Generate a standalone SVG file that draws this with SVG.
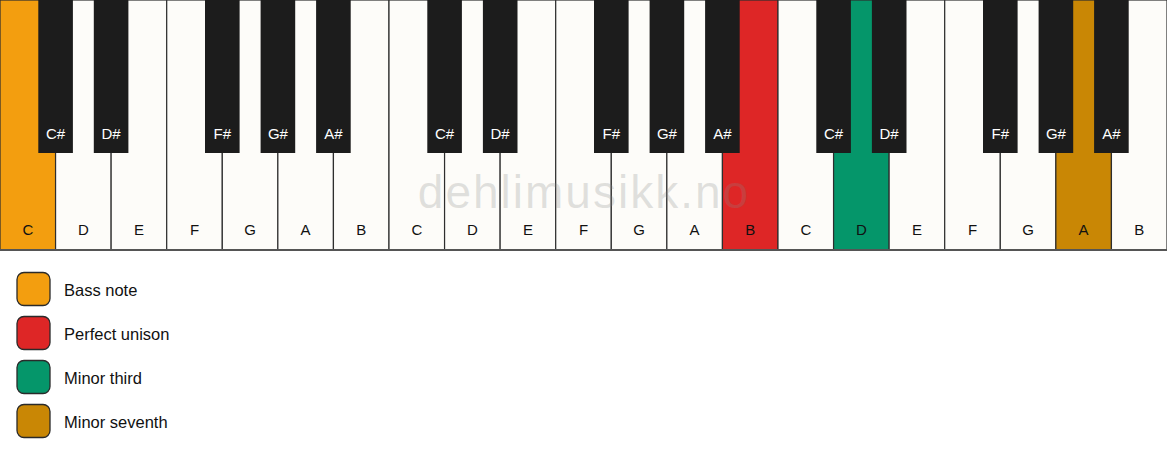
<svg xmlns="http://www.w3.org/2000/svg" width="1167" height="461" viewBox="0 0 1167 461">
<style>
.w{fill:#fdfcf9;stroke:#2e2e2e;stroke-width:1.2}
.b{fill:#1c1c1c}
.wl{font-family:"Liberation Sans",Arial,sans-serif;font-size:15px;fill:#111;text-anchor:middle}
.bl{font-family:"Liberation Sans",Arial,sans-serif;font-size:15px;fill:#fff;text-anchor:middle}
.lg{font-family:"Liberation Sans",Arial,sans-serif;font-size:16.5px;fill:#111}
.sw{stroke:#2a2a2a;stroke-width:1.3}
</style>
<rect width="1167" height="461" fill="#ffffff"/>
<g id="white-keys">
<rect id="k0" class="w" x="0" y="0" width="55.57" height="250" style="fill:#f39e0f"/>
<rect class="w" x="55.57" y="0" width="55.57" height="250"/>
<rect class="w" x="111.14" y="0" width="55.57" height="250"/>
<rect class="w" x="166.71" y="0" width="55.57" height="250"/>
<rect class="w" x="222.29" y="0" width="55.57" height="250"/>
<rect class="w" x="277.86" y="0" width="55.57" height="250"/>
<rect class="w" x="333.43" y="0" width="55.57" height="250"/>
<rect class="w" x="389" y="0" width="55.57" height="250"/>
<rect class="w" x="444.57" y="0" width="55.57" height="250"/>
<rect class="w" x="500.14" y="0" width="55.57" height="250"/>
<rect class="w" x="555.71" y="0" width="55.57" height="250"/>
<rect class="w" x="611.29" y="0" width="55.57" height="250"/>
<rect class="w" x="666.86" y="0" width="55.57" height="250"/>
<rect class="w" x="722.43" y="0" width="55.57" height="250" style="fill:#de2626"/>
<rect class="w" x="778" y="0" width="55.57" height="250"/>
<rect class="w" x="833.57" y="0" width="55.57" height="250" style="fill:#05966a"/>
<rect class="w" x="889.14" y="0" width="55.57" height="250"/>
<rect class="w" x="944.71" y="0" width="55.57" height="250"/>
<rect class="w" x="1000.29" y="0" width="55.57" height="250"/>
<rect class="w" x="1055.86" y="0" width="55.57" height="250" style="fill:#c98705"/>
<rect class="w" x="1111.43" y="0" width="55.57" height="250"/>
<line x1="0" y1="250" x2="1167" y2="250" stroke="#555" stroke-width="2"/>
</g>
<g id="watermark">
<text x="584" y="208" font-family="'Liberation Sans',Arial,sans-serif" font-size="46" letter-spacing="2" text-anchor="middle" fill="#888" fill-opacity="0.25">dehlimusikk.no</text>
</g>
<g id="white-labels">
<text class="wl" x="27.8" y="235">C</text>
<text class="wl" x="83.4" y="235">D</text>
<text class="wl" x="138.9" y="235">E</text>
<text class="wl" x="194.5" y="235">F</text>
<text class="wl" x="250.1" y="235">G</text>
<text class="wl" x="305.6" y="235">A</text>
<text class="wl" x="361.2" y="235">B</text>
<text class="wl" x="416.8" y="235">C</text>
<text class="wl" x="472.4" y="235">D</text>
<text class="wl" x="527.9" y="235">E</text>
<text class="wl" x="583.5" y="235">F</text>
<text class="wl" x="639.1" y="235">G</text>
<text class="wl" x="694.6" y="235">A</text>
<text class="wl" x="750.2" y="235">B</text>
<text class="wl" x="805.8" y="235">C</text>
<text class="wl" x="861.4" y="235">D</text>
<text class="wl" x="916.9" y="235">E</text>
<text class="wl" x="972.5" y="235">F</text>
<text class="wl" x="1028.1" y="235">G</text>
<text class="wl" x="1083.6" y="235">A</text>
<text class="wl" x="1139.2" y="235">B</text>
</g>
<g id="black-keys">
<rect class="b" x="38.3" y="0" width="34.6" height="153"/>
<rect class="b" x="93.8" y="0" width="34.6" height="153"/>
<rect class="b" x="205" y="0" width="34.6" height="153"/>
<rect class="b" x="260.6" y="0" width="34.6" height="153"/>
<rect class="b" x="316.1" y="0" width="34.6" height="153"/>
<rect class="b" x="427.3" y="0" width="34.6" height="153"/>
<rect class="b" x="482.9" y="0" width="34.6" height="153"/>
<rect class="b" x="594" y="0" width="34.6" height="153"/>
<rect class="b" x="649.6" y="0" width="34.6" height="153"/>
<rect class="b" x="705.1" y="0" width="34.6" height="153"/>
<rect class="b" x="816.3" y="0" width="34.6" height="153"/>
<rect class="b" x="871.9" y="0" width="34.6" height="153"/>
<rect class="b" x="983" y="0" width="34.6" height="153"/>
<rect class="b" x="1038.6" y="0" width="34.6" height="153"/>
<rect class="b" x="1094.1" y="0" width="34.6" height="153"/>
</g>
<g id="black-labels">
<text class="bl" x="55.6" y="139">C#</text>
<text class="bl" x="111.1" y="139">D#</text>
<text class="bl" x="222.3" y="139">F#</text>
<text class="bl" x="277.9" y="139">G#</text>
<text class="bl" x="333.4" y="139">A#</text>
<text class="bl" x="444.6" y="139">C#</text>
<text class="bl" x="500.1" y="139">D#</text>
<text class="bl" x="611.3" y="139">F#</text>
<text class="bl" x="666.9" y="139">G#</text>
<text class="bl" x="722.4" y="139">A#</text>
<text class="bl" x="833.6" y="139">C#</text>
<text class="bl" x="889.1" y="139">D#</text>
<text class="bl" x="1000.3" y="139">F#</text>
<text class="bl" x="1055.9" y="139">G#</text>
<text class="bl" x="1111.4" y="139">A#</text>
</g>
<g id="legend-bass">
<rect class="sw" x="17" y="272.5" width="33" height="33" rx="7" fill="#f39e0f"/>
<text class="lg" x="64" y="295.5">Bass note</text>
</g>
<g id="legend-unison">
<rect class="sw" x="17" y="316.5" width="33" height="33" rx="7" fill="#de2626"/>
<text class="lg" x="64" y="339.5">Perfect unison</text>
</g>
<g id="legend-third">
<rect class="sw" x="17" y="360.5" width="33" height="33" rx="7" fill="#05966a"/>
<text class="lg" x="64" y="383.5">Minor third</text>
</g>
<g id="legend-seventh">
<rect class="sw" x="17" y="404.5" width="33" height="33" rx="7" fill="#c98705"/>
<text class="lg" x="64" y="427.5">Minor seventh</text>
</g>
</svg>
